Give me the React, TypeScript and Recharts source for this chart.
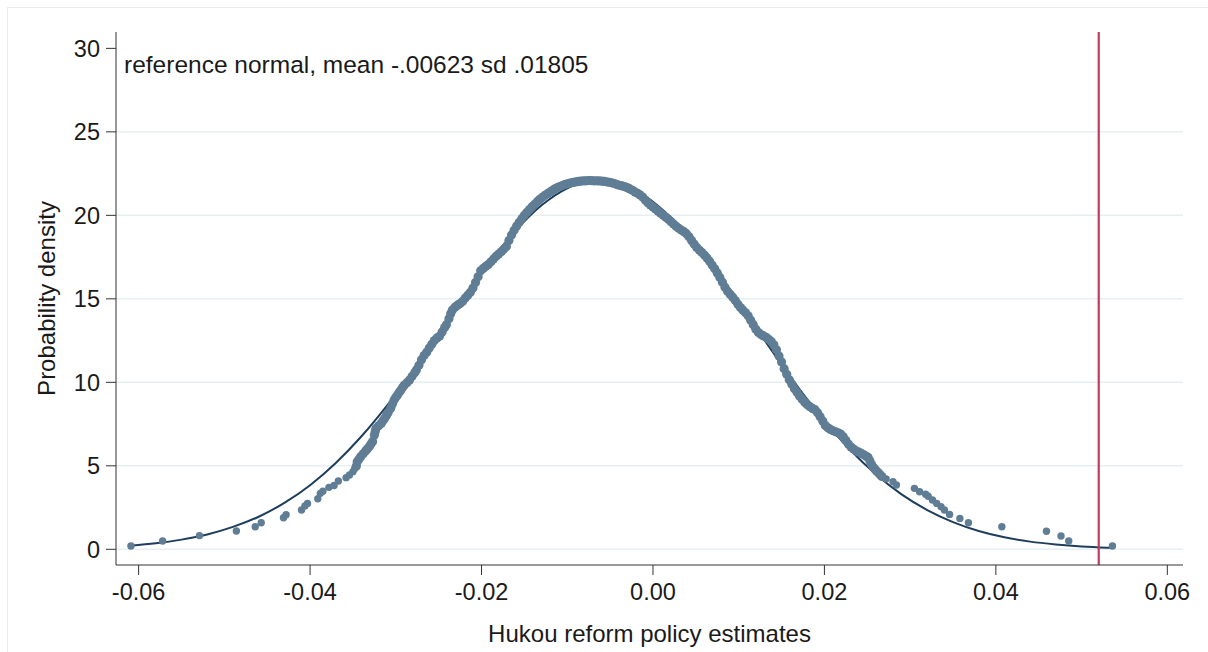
import React from "react";
import {
  ComposedChart,
  Line,
  Scatter,
  XAxis,
  YAxis,
  CartesianGrid,
  ReferenceLine,
} from "recharts";

// x ticks on the estimate axis, y ticks on the density axis
const xTicks = [-0.06, -0.04, -0.02, 0, 0.02, 0.04, 0.06];
const yTicks = [0, 5, 10, 15, 20, 25, 30];
const gridValues = [0, 5, 10, 15, 20, 25];

// the red marker for the actual estimate
const actualEstimate = 0.052;

// reference normal curve (mean -.00623, sd .01805)
const normalX = [
  -0.061, -0.058, -0.055, -0.052, -0.049, -0.046, -0.043, -0.04, -0.037, -0.034,
  -0.031, -0.028, -0.025, -0.022, -0.019, -0.016, -0.013, -0.01, -0.007, -0.004,
  -0.001, 0.002, 0.005, 0.008, 0.011, 0.014, 0.017, 0.02, 0.023, 0.026, 0.029,
  0.032, 0.035, 0.038, 0.041, 0.044, 0.047, 0.05, 0.053, 0.0536,
];
const normalY = [
  0.22, 0.36, 0.58, 0.89, 1.34, 1.95, 2.78, 3.84, 5.17, 6.77, 8.62, 10.68, 12.87,
  15.08, 17.21, 19.09, 20.6, 21.62, 22.08, 21.93, 21.19, 19.92, 18.21, 16.2,
  14.02, 11.79, 9.66, 7.69, 5.96, 4.49, 3.29, 2.35, 1.63, 1.1, 0.72, 0.46, 0.29,
  0.17, 0.1, 0.09,
];

// estimated densities (one dot per estimate), left tail
const leftTail: [number, number][] = [
  [-0.0609, 0.2], [-0.0572, 0.5], [-0.0529, 0.82], [-0.0486, 1.1], [-0.0464, 1.35],
  [-0.0457, 1.59], [-0.0431, 1.89], [-0.0428, 2.07], [-0.041, 2.35], [-0.0406, 2.59],
  [-0.0403, 2.75], [-0.0391, 3.03], [-0.0388, 3.35], [-0.0385, 3.48], [-0.0378, 3.71],
  [-0.0372, 3.82], [-0.0367, 4.09], [-0.0358, 4.29], [-0.0354, 4.45], [-0.035, 4.65],
  [-0.0348, 4.82],
];

// the dense body of the distribution
const body: [number, number][] = [
  [-0.0346, 4.99], [-0.0345, 5.25], [-0.0343, 5.4], [-0.0341, 5.55], [-0.0338, 5.72],
  [-0.0335, 5.9], [-0.0333, 6.02], [-0.0331, 6.14], [-0.0329, 6.3], [-0.0327, 6.46],
  [-0.0325, 6.84], [-0.0324, 7.05], [-0.0323, 7.25], [-0.032, 7.4], [-0.0317, 7.54],
  [-0.0315, 7.7], [-0.0313, 7.84], [-0.0311, 8.02], [-0.0309, 8.18], [-0.0306, 8.44],
  [-0.0304, 8.7], [-0.0302, 8.94], [-0.03, 9.1], [-0.0298, 9.24], [-0.0296, 9.4],
  [-0.0294, 9.54], [-0.0292, 9.7], [-0.029, 9.84], [-0.0287, 9.98], [-0.0284, 10.14],
  [-0.0281, 10.36], [-0.0278, 10.58], [-0.0276, 10.74], [-0.0273, 11.02], [-0.027, 11.35],
  [-0.0267, 11.6], [-0.0264, 11.8], [-0.0261, 12.05], [-0.0258, 12.28], [-0.0255, 12.5],
  [-0.0252, 12.66], [-0.0249, 12.76], [-0.0246, 13.02], [-0.0243, 13.28], [-0.0241, 13.45],
  [-0.0238, 13.8], [-0.0236, 14.1], [-0.0234, 14.33], [-0.0231, 14.5], [-0.0228, 14.62],
  [-0.0225, 14.72], [-0.0222, 14.85], [-0.0219, 15.05], [-0.0216, 15.22], [-0.0213, 15.4],
  [-0.021, 15.65], [-0.0207, 15.98], [-0.0204, 16.32], [-0.0201, 16.68], [-0.0198, 16.82],
  [-0.0195, 16.95], [-0.0192, 17.06], [-0.0189, 17.22], [-0.0186, 17.38], [-0.0183, 17.55],
  [-0.018, 17.68], [-0.0177, 17.82], [-0.0174, 17.98], [-0.0171, 18.14], [-0.0168, 18.5],
  [-0.0165, 18.82], [-0.0162, 19.1], [-0.0159, 19.36], [-0.0156, 19.58], [-0.0153, 19.8],
  [-0.015, 20.0], [-0.0147, 20.18], [-0.0144, 20.35], [-0.0141, 20.52], [-0.0138, 20.66],
  [-0.0135, 20.82], [-0.0132, 20.96], [-0.0129, 21.08], [-0.0126, 21.2], [-0.0123, 21.3],
  [-0.012, 21.4], [-0.0117, 21.5], [-0.0114, 21.6], [-0.0111, 21.68], [-0.0108, 21.74],
  [-0.0105, 21.8], [-0.0102, 21.86], [-0.0099, 21.9], [-0.0096, 21.94], [-0.0093, 21.97],
  [-0.009, 22.0], [-0.0087, 22.03], [-0.0084, 22.05], [-0.0081, 22.06], [-0.0078, 22.07],
  [-0.0075, 22.08], [-0.0072, 22.08], [-0.0069, 22.07], [-0.0066, 22.07], [-0.0063, 22.06],
  [-0.006, 22.05], [-0.0057, 22.03], [-0.0054, 22.01], [-0.0051, 21.98], [-0.0048, 21.95],
  [-0.0045, 21.9], [-0.0042, 21.84], [-0.0039, 21.8], [-0.0036, 21.76], [-0.0033, 21.72],
  [-0.003, 21.66], [-0.0027, 21.58], [-0.0024, 21.5], [-0.0021, 21.4], [-0.0018, 21.32],
  [-0.0015, 21.22], [-0.0012, 21.1], [-0.0009, 20.92], [-0.0006, 20.75], [-0.0003, 20.62],
  [0.0, 20.5], [0.0003, 20.38], [0.0006, 20.25], [0.0009, 20.12], [0.0012, 20.0],
  [0.0015, 19.88], [0.0018, 19.76], [0.0021, 19.62], [0.0024, 19.48], [0.0027, 19.34],
  [0.003, 19.22], [0.0033, 19.12], [0.0036, 19.02], [0.0039, 18.9], [0.0042, 18.72],
  [0.0045, 18.5], [0.0048, 18.28], [0.0051, 18.08], [0.0054, 17.92], [0.0057, 17.78],
  [0.006, 17.62], [0.0063, 17.45], [0.0066, 17.25], [0.0069, 17.02], [0.0072, 16.8],
  [0.0075, 16.55], [0.0078, 16.28], [0.0081, 16.0], [0.0084, 15.7], [0.0087, 15.45],
  [0.009, 15.28], [0.0093, 15.1], [0.0096, 14.9], [0.0099, 14.68], [0.0102, 14.48],
  [0.0105, 14.32], [0.0108, 14.16], [0.0111, 13.98], [0.0114, 13.72], [0.0117, 13.45],
  [0.012, 13.18], [0.0123, 12.98], [0.0126, 12.86], [0.0129, 12.78], [0.0132, 12.7],
  [0.0135, 12.58], [0.0138, 12.44], [0.0141, 12.25], [0.0144, 11.95], [0.0147, 11.58],
  [0.015, 11.22], [0.0153, 10.82], [0.0156, 10.48], [0.0159, 10.15], [0.0162, 9.88],
  [0.0165, 9.62], [0.0168, 9.4], [0.0171, 9.18], [0.0174, 8.98], [0.0177, 8.8],
  [0.018, 8.66], [0.0183, 8.54], [0.0186, 8.44], [0.0189, 8.36], [0.0192, 8.18],
  [0.0195, 7.94], [0.0198, 7.68], [0.0201, 7.42], [0.0204, 7.28], [0.0207, 7.18],
  [0.021, 7.1], [0.0213, 7.04], [0.0216, 6.98], [0.0219, 6.9], [0.0222, 6.74],
  [0.0225, 6.52], [0.0228, 6.3], [0.0231, 6.12], [0.0234, 6.0], [0.0237, 5.9],
  [0.024, 5.82], [0.0243, 5.74], [0.0246, 5.66], [0.0249, 5.56], [0.0251, 5.5],
  [0.0253, 5.3], [0.0255, 5.08], [0.0257, 4.92], [0.0259, 4.8], [0.0261, 4.68],
  [0.0263, 4.58], [0.0265, 4.46], [0.0267, 4.36],
];

// right tail
const rightTail: [number, number][] = [
  [0.0272, 4.22], [0.028, 4.05], [0.0284, 3.85], [0.0305, 3.65], [0.0311, 3.45],
  [0.0318, 3.3], [0.0321, 3.18], [0.0326, 2.95], [0.0331, 2.75], [0.0336, 2.55],
  [0.034, 2.35], [0.0346, 2.09], [0.0358, 1.85], [0.0368, 1.59], [0.0407, 1.35],
  [0.0459, 1.08], [0.0476, 0.8], [0.0485, 0.5], [0.0536, 0.2],
];

const curveData = normalX.map((x, i) => ({ x, y: normalY[i] }));
const tailData = [...leftTail, ...rightTail].map(([x, y]) => ({ x, y }));
const bodyData = body.map(([x, y]) => ({ x, y }));

const FONT = "'Liberation Sans', Arial, Helvetica, sans-serif";
const DOT = "#5f7d95";
const tickStyle = { fontSize: 23.5, fill: "#1a1a1a", fontFamily: FONT };

const TailDot = (props: any) => <circle cx={props.cx} cy={props.cy} r={3.7} fill={DOT} />;
const BodyDot = (props: any) => <circle cx={props.cx} cy={props.cy} r={4.6} fill={DOT} />;

export default function App() {
  return (
    <div style={{ position: "absolute", left: 0, top: 0, width: 1208, height: 652, background: "#fff" }}>
      <div
        style={{
          position: "absolute",
          left: 7,
          top: 7,
          right: 0,
          bottom: 0,
          borderTop: "1px solid #ececec",
          borderLeft: "1px solid #ececec",
        }}
      />
      <ComposedChart
        width={1208}
        height={652}
        margin={{ top: 32, right: 25, left: 0, bottom: 0 }}
        style={{ fontFamily: FONT }}
      >
        <CartesianGrid
          vertical={false}
          horizontalValues={gridValues}
          stroke="#e6eff1"
          strokeWidth={1.5}
        />
        <XAxis
          type="number"
          dataKey="x"
          domain={[-0.06264, 0.06183]}
          allowDataOverflow
          ticks={xTicks}
          tickFormatter={(v: number) => v.toFixed(2)}
          height={87}
          tickSize={10}
          tickMargin={8}
          stroke="#333"
          tick={tickStyle}
          label={{
            value: "Hukou reform policy estimates",
            position: "insideBottom",
            offset: 10,
            style: { fontSize: 24, fill: "#1a1a1a", fontFamily: FONT },
          }}
        />
        <YAxis
          type="number"
          dataKey="y"
          domain={[-0.94, 30.98]}
          allowDataOverflow
          ticks={yTicks}
          width={116}
          tickSize={10}
          tickMargin={6}
          stroke="#333"
          tick={tickStyle}
          label={{
            value: "Probability density",
            angle: -90,
            position: "insideLeft",
            offset: 46,
            style: { fontSize: 24, fill: "#1a1a1a", fontFamily: FONT, textAnchor: "middle" },
          }}
        />
        <Line
          data={curveData}
          dataKey="y"
          type="monotone"
          stroke="#1f3d5c"
          strokeWidth={2}
          dot={false}
          isAnimationActive={false}
        />
        <Scatter data={tailData} dataKey="y" shape={TailDot} isAnimationActive={false} />
        <Scatter data={bodyData} dataKey="y" shape={BodyDot} isAnimationActive={false} />
        <ReferenceLine x={actualEstimate} stroke="#c43a5e" strokeWidth={2.2} />
      </ComposedChart>
      <div
        style={{
          position: "absolute",
          left: 124,
          top: 51,
          fontFamily: FONT,
          fontSize: 24.5,
          lineHeight: "28px",
          color: "#1a1a1a",
          whiteSpace: "nowrap",
        }}
      >
        reference normal, mean -.00623 sd .01805
      </div>
    </div>
  );
}
